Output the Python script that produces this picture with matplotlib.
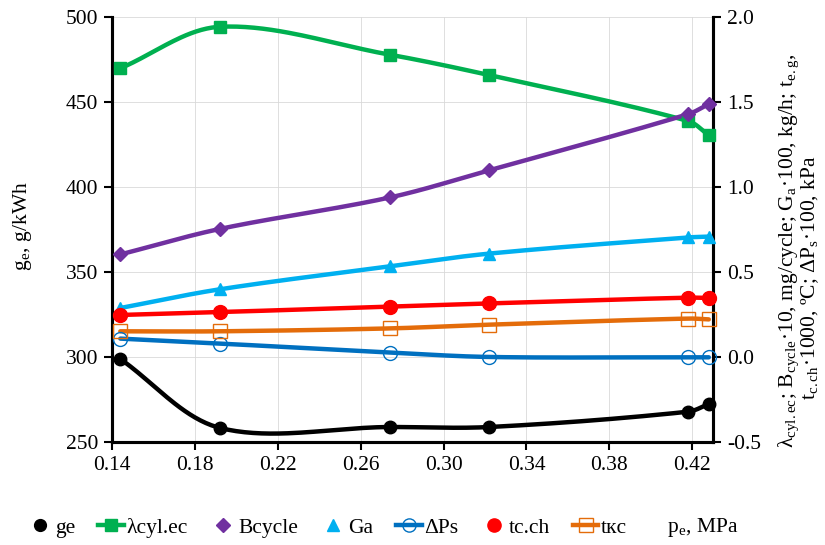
"""Диаграмма: показатели двигателя в зависимости от p_e."""
import numpy as np
import matplotlib

matplotlib.use("Agg")
import matplotlib.pyplot as plt
from matplotlib.lines import Line2D

plt.rcParams["font.family"] = ["Liberation Serif", "DejaVu Serif"]
plt.rcParams["mathtext.fontset"] = "stix"

# --- данные ---
pe = [0.144, 0.192, 0.274, 0.322, 0.418, 0.428]
ge = [299.0, 258.5, 259.0, 259.0, 268.0, 272.5]          # левая ось
lam_cyl = [1.70, 1.944, 1.78, 1.66, 1.39, 1.306]         # правая ось
b_cycle = [0.605, 0.755, 0.94, 1.10, 1.43, 1.49]
g_a = [0.29, 0.40, 0.535, 0.61, 0.705, 0.71]
dp_s = [0.11, 0.081, 0.028, 0.002, 0.0, 0.0]
t_cch = [0.249, 0.266, 0.298, 0.317, 0.351, 0.349]
t_kc = [0.153, 0.153, 0.17, 0.192, 0.228, 0.223]

x_ticks = [0.14, 0.18, 0.22, 0.26, 0.30, 0.34, 0.38, 0.42]
XLIM = (0.14, 0.43)
YLIM_L = (250, 500)
YLIM_R = (-0.5, 2.0)
FS = 15.5


def smooth(x, y, ylim, n=40):
    """Сглаживание как в Excel: Безье, касательные с учётом длин отрезков."""
    sx = (np.asarray(x, float) - XLIM[0]) / (XLIM[1] - XLIM[0]) * 601
    sy = (np.asarray(y, float) - ylim[0]) / (ylim[1] - ylim[0]) * 425
    P = np.column_stack([sx, sy])
    m = len(P)
    d = np.linalg.norm(np.diff(P, axis=0), axis=1)
    out = [P[0]]
    t = np.linspace(0, 1, n)[1:, None]
    for i in range(m - 1):
        if i > 0:
            c1 = P[i] + (P[i + 1] - P[i - 1]) * d[i] / (d[i - 1] + d[i]) / 3
        else:
            c1 = P[i] + (P[i + 1] - P[i]) / 3
        if i + 2 < m:
            c2 = P[i + 1] - (P[i + 2] - P[i]) * d[i] / (d[i] + d[i + 1]) / 3
        else:
            c2 = P[i + 1] - (P[i + 1] - P[i]) / 3
        seg = ((1 - t) ** 3 * P[i] + 3 * (1 - t) ** 2 * t * c1
               + 3 * (1 - t) * t ** 2 * c2 + t ** 3 * P[i + 1])
        out.extend(seg)
    out = np.array(out)
    xs = out[:, 0] / 601 * (XLIM[1] - XLIM[0]) + XLIM[0]
    ys = out[:, 1] / 425 * (ylim[1] - ylim[0]) + ylim[0]
    return xs, ys


fig = plt.figure(figsize=(8.25, 5.45), dpi=100)
ax = fig.add_axes([0.1358, 0.1884, 0.7284, 0.7799])
ax2 = ax.twinx()

LW = 3.2
series = [
    (ax, ge, YLIM_L, "black", "o", "black", 9),
    (ax2, lam_cyl, YLIM_R, "#00B050", "s", "#00B050", 9),
    (ax2, b_cycle, YLIM_R, "#7030A0", "D", "#7030A0", 7),
    (ax2, g_a, YLIM_R, "#00B0F0", "^", "#00B0F0", 9),
    (ax2, dp_s, YLIM_R, "#0070C0", "o", "none", 10),
    (ax2, t_cch, YLIM_R, "#FF0000", "o", "#FF0000", 10),
    (ax2, t_kc, YLIM_R, "#E46C0A", "s", "none", 10),
]
for a, vals, ylim, col, mk, face, ms in series:
    xs, ys = smooth(pe, vals, ylim)
    a.plot(xs, ys, color=col, lw=LW, solid_capstyle="round", zorder=2)
    a.plot(pe, vals, ls="none", marker=mk, ms=ms, mfc=face, mec=col,
           mew=1.0, zorder=3, clip_on=False)

ax.set_xlim(*XLIM)
ax.set_ylim(*YLIM_L)
ax2.set_ylim(*YLIM_R)
ax.set_xticks(x_ticks)
ax.set_xticklabels([f"{v:.2f}" for v in x_ticks])
ax.set_yticks(np.arange(250, 501, 50))
ax2.set_yticks(np.arange(-0.5, 2.01, 0.5))
ax2.set_yticklabels([f"{v:.1f}" for v in np.arange(-0.5, 2.01, 0.5)])
ax.grid(True, color="#d9d9d9", lw=0.6)
ax.set_axisbelow(True)

for a in (ax, ax2):
    for s in a.spines.values():
        s.set_linewidth(2.2)
    a.spines["top"].set_visible(False)
    a.tick_params(labelsize=FS, width=1.5, length=6, direction="out", pad=4)

fig.text(0.027, 0.585, "g$_\\mathregular{e}$, g/kWh", rotation=90,
         ha="center", va="center", fontsize=FS)
fig.text(0.956, 0.54,
         "λ$_\\mathregular{cyl.ec}$; B$_\\mathregular{cycle}$·10, mg/cycle; "
         "G$_\\mathregular{a}$·100, kg/h; t$_\\mathregular{e.g}$,",
         rotation=90, ha="center", va="center", fontsize=FS)
fig.text(0.982, 0.49,
         "t$_\\mathregular{c.ch}$·1000, ºC; ΔP$_\\mathregular{s}$·100, kPa",
         rotation=90, ha="center", va="center", fontsize=FS)

names = ["ge", "λcyl.ec", "Bcycle", "Ga", "ΔPs", "tc.ch", "tкc"]
handles = [
    Line2D([], [], ls="none", marker="o", color="black", ms=8.5),
    Line2D([], [], color="#00B050", lw=LW, marker="s", ms=8.5),
    Line2D([], [], ls="none", marker="D", color="#7030A0", ms=7),
    Line2D([], [], ls="none", marker="^", color="#00B0F0", ms=8.5),
    Line2D([], [], color="#0070C0", lw=LW, marker="o", mfc="none", ms=9.5),
    Line2D([], [], ls="none", marker="o", color="#FF0000", ms=9.5),
    Line2D([], [], color="#E46C0A", lw=LW, marker="s", mfc="none", ms=9.5),
]
fig.legend(handles, names, loc="center left", bbox_to_anchor=(0.033, 0.032),
           ncol=7, frameon=False, fontsize=FS, handlelength=1.2,
           handletextpad=0.1, columnspacing=1.05, borderpad=0,
           borderaxespad=0)
fig.text(0.808, 0.032, "p$_\\mathregular{e}$, MPa", fontsize=FS,
         ha="left", va="center")

fig.savefig("out.png", dpi=100)
